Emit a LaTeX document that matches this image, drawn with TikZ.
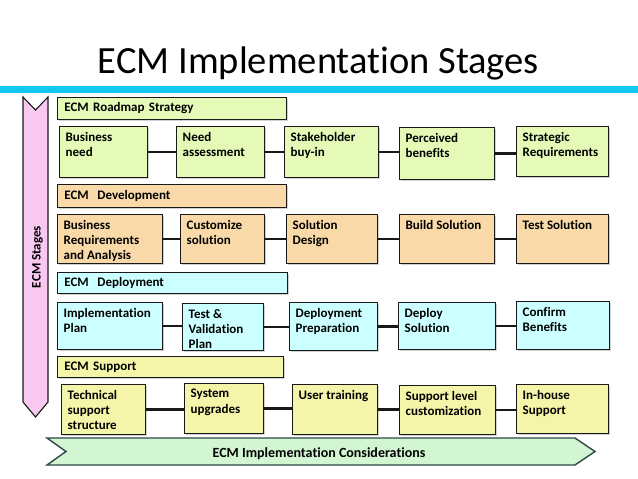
\documentclass[tikz,border=0pt]{standalone}
\usepackage{fontspec}
\setmainfont{Carlito}[Ligatures=NoCommon]
\usetikzlibrary{shadows, positioning}
\definecolor{titleBlue}{RGB}{18,200,242}
\definecolor{roadGreen}{RGB}{229,250,183}
\definecolor{devTan}{RGB}{249,217,168}
\definecolor{deployCyan}{RGB}{204,255,255}
\definecolor{supportYellow}{RGB}{245,245,170}
\definecolor{stagePink}{RGB}{248,200,240}
\definecolor{considerGreen}{RGB}{210,246,210}
\definecolor{edgeDark}{RGB}{47,72,72}
\definecolor{mainBlack}{gray}{0.1}

\begin{document}
\begin{tikzpicture}[x=1pt, y=-1pt,
    stagebox/.style={draw=mainBlack, line width=0.9pt, anchor=north west, inner sep=0pt,
        drop shadow={shadow xshift=1.3pt, shadow yshift=-1.3pt, opacity=0.35}},
    boxtext/.style={anchor=north west, align=left, inner xsep=6.5pt, inner ysep=6pt,
        font=\fontsize{13}{15.3}\selectfont\bfseries},
    header/.style={stagebox, align=left, inner xsep=7pt, font=\fontsize{13}{15.3}\selectfont\bfseries},
    link/.style={line width=2.2pt, mainBlack}]
    \fill[white] (0,0) rectangle (638,479);
    \useasboundingbox (0,0) rectangle (638,479);
    \node[anchor=base, font=\fontsize{38.5}{46}\selectfont] (title) at (318.5,73) {ECM Implementat\kern0pt ion Stages};
    \fill[titleBlue] (0,86) rectangle (638,93);

    \draw[line width=1.1pt, fill=stagePink, draw=mainBlack] (23,97) -- (35.5,110) -- (48,97) -- (48,402) -- (35.5,417) -- (23,402) -- cycle;
    \node[rotate=90, font=\fontsize{13}{15}\selectfont\bfseries] (stagesLbl) at (37.5,257) {ECM Stages};

    \node[header, fill=roadGreen, minimum height=22pt, text width=215pt] (roadmap) at (57,97) {ECM Roadmap Strategy};
    \node[stagebox, fill=roadGreen, minimum width=88pt, minimum height=51pt, label={[boxtext]north west:Business\\need}] (bizNeed) at (59,126) {};
    \node[stagebox, fill=roadGreen, minimum width=88pt, minimum height=51pt, label={[boxtext]north west:Need\\assessment}] (needAssess) at (176,126) {};
    \node[stagebox, fill=roadGreen, minimum width=94pt, minimum height=51pt, label={[boxtext]north west:Stakeholder\\buy-in}] (stakeBuy) at (284,126) {};
    \node[stagebox, fill=roadGreen, minimum width=95pt, minimum height=52pt, label={[boxtext]north west:Perceived\\benefits}] (percBen) at (399,127) {};
    \node[stagebox, fill=roadGreen, minimum width=92pt, minimum height=50pt, label={[boxtext]north west:Strategic\\Requirements}] (stratReq) at (516,126) {};

    \node[header, fill=devTan, minimum height=23pt, text width=215pt] (development) at (57,184) {ECM~ Development};
    \node[stagebox, fill=devTan, minimum width=105pt, minimum height=49pt, label={[boxtext]north west:Business\\Requirements\\and Analysis}] (bizReq) at (57,214) {};
    \node[stagebox, fill=devTan, minimum width=84pt, minimum height=49pt, label={[boxtext]north west:Customize\\solution}] (custSol) at (180,214) {};
    \node[stagebox, fill=devTan, minimum width=91pt, minimum height=49pt, label={[boxtext]north west:Solution\\Design}] (solDesign) at (286,214) {};
    \node[stagebox, fill=devTan, minimum width=95pt, minimum height=49pt, label={[boxtext]north west:Build Solution}] (buildSol) at (399,214) {};
    \node[stagebox, fill=devTan, minimum width=92pt, minimum height=49pt, label={[boxtext]north west:Test Solution}] (testSol) at (516,214) {};

    \node[header, fill=deployCyan, minimum height=21pt, text width=216pt] (deployment) at (57,272) {ECM~ Deployment};
    \node[stagebox, fill=deployCyan, minimum width=105pt, minimum height=47pt, label={[boxtext]north west:Implementation\\Plan}] (implPlan) at (57,302) {};
    \node[stagebox, fill=deployCyan, minimum width=81pt, minimum height=47pt, label={[boxtext]north west:Test \&\\Validation\\Plan}] (testVal) at (182,303) {};
    \node[stagebox, fill=deployCyan, minimum width=88pt, minimum height=48pt, label={[boxtext]north west:Deployment\\Preparation}] (deplPrep) at (289,302) {};
    \node[stagebox, fill=deployCyan, minimum width=97pt, minimum height=47pt, label={[boxtext]north west:Deploy\\Solution}] (deploySol) at (398,302) {};
    \node[stagebox, fill=deployCyan, minimum width=93pt, minimum height=48pt, label={[boxtext]north west:Confirm\\Benefits}] (confBen) at (516,301) {};

    \node[header, fill=supportYellow, minimum height=21pt, text width=212pt] (support) at (57,356) {ECM Support};
    \node[stagebox, fill=supportYellow, minimum width=84pt, minimum height=50pt, label={[boxtext]north west:Technical\\support\\structure}] (techSup) at (61,384) {};
    \node[stagebox, fill=supportYellow, minimum width=79pt, minimum height=50pt, label={[boxtext]north west:System\\upgrades}] (sysUpg) at (184,383) {};
    \node[stagebox, fill=supportYellow, minimum width=85pt, minimum height=50pt, label={[boxtext]north west:User training}] (userTrain) at (292,384) {};
    \node[stagebox, fill=supportYellow, minimum width=96pt, minimum height=49pt, label={[boxtext]north west:Support level\\customization}] (suppLevel) at (399,385) {};
    \node[stagebox, fill=supportYellow, minimum width=92pt, minimum height=49pt, label={[boxtext]north west:In-house\\Support}] (inHouse) at (516,384) {};

    \foreach \a/\b in {bizNeed/needAssess, needAssess/stakeBuy, stakeBuy/percBen, percBen/stratReq,
        bizReq/custSol, custSol/solDesign, solDesign/buildSol, buildSol/testSol,
        implPlan/testVal, testVal/deplPrep, deplPrep/deploySol, deploySol/confBen,
        techSup/sysUpg, sysUpg/userTrain, userTrain/suppLevel, suppLevel/inHouse}
        \draw[link] (\a.east) -- (\a.east -| \b.west);

    \draw[line width=1.4pt, fill=considerGreen, draw=edgeDark] (47,438) -- (575,438) -- (595,451.5) -- (575,465) -- (47,465) -- (66,451.5) -- cycle;
    \node[anchor=base, font=\fontsize{14}{16}\selectfont\bfseries] (considerLbl) at (319,457) {ECM Implementation Considerations};
\end{tikzpicture}
\end{document}
